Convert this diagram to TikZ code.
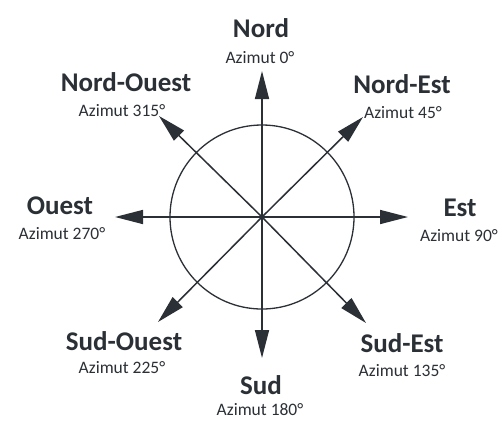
\documentclass[tikz,border=0pt]{standalone}
\usepackage{fontspec}
\setmainfont{Carlito}
\usetikzlibrary{arrows.meta}
\definecolor{ink}{rgb}{0.17,0.19,0.21}
\begin{document}
\begin{tikzpicture}[x=1pt,y=-1pt,
  dirarrow/.style={draw=ink,line width=1.5pt,-{Triangle[length=28pt,width=14pt]}},
  title/.style={text=ink,font=\fontsize{27}{30}\selectfont\bfseries,inner sep=0pt,anchor=center},
  azim/.style={text=ink,font=\fontsize{17.5}{20}\selectfont,inner sep=0pt,anchor=center}]
\useasboundingbox (0,0) rectangle (502,421);
\fill[white] (0,0) rectangle (502,421);
\coordinate (c) at (262,217);
\node[draw=ink,line width=1.3pt,circle,minimum size=184pt,inner sep=0pt] (circ) at (c) {};
\coordinate (tn) at (262,71);
\coordinate (ts) at (262,358);
\coordinate (tw) at (115,217);
\coordinate (te) at (408,217);
\coordinate (tne) at (363,117);
\coordinate (tnw) at (159,116);
\coordinate (tsw) at (158,322);
\coordinate (tse) at (366,323);
\foreach \t in {tn,ts,tw,te,tne,tnw,tsw,tse} \draw[dirarrow] (c) -- (\t);
\node[title] (nord) at (261,28) {Nord};
\node[azim] (anord) at (260,58) {Azimut 0°};
\node[title] (nordouest) at (126,82) {Nord-Ouest};
\node[azim] (anordouest) at (122,111) {Azimut 315°};
\node[title] (nordest) at (402,84) {Nord-Est};
\node[azim] (anordest) at (403,113) {Azimut 45°};
\node[title] (ouest) at (60,206) {Ouest};
\node[azim] (aouest) at (62,234) {Azimut 270°};
\node[title] (est) at (460,208) {Est};
\node[azim] (aest) at (459,236) {Azimut 90°};
\node[title] (sudouest) at (124,341) {Sud-Ouest};
\node[azim] (asudouest) at (122,368) {Azimut 225°};
\node[title] (sud) at (261,385) {Sud};
\node[azim] (asud) at (260,410) {Azimut 180°};
\node[title] (sudest) at (402,343) {Sud-Est};
\node[azim] (asudest) at (402,371) {Azimut 135°};
\end{tikzpicture}
\end{document}
